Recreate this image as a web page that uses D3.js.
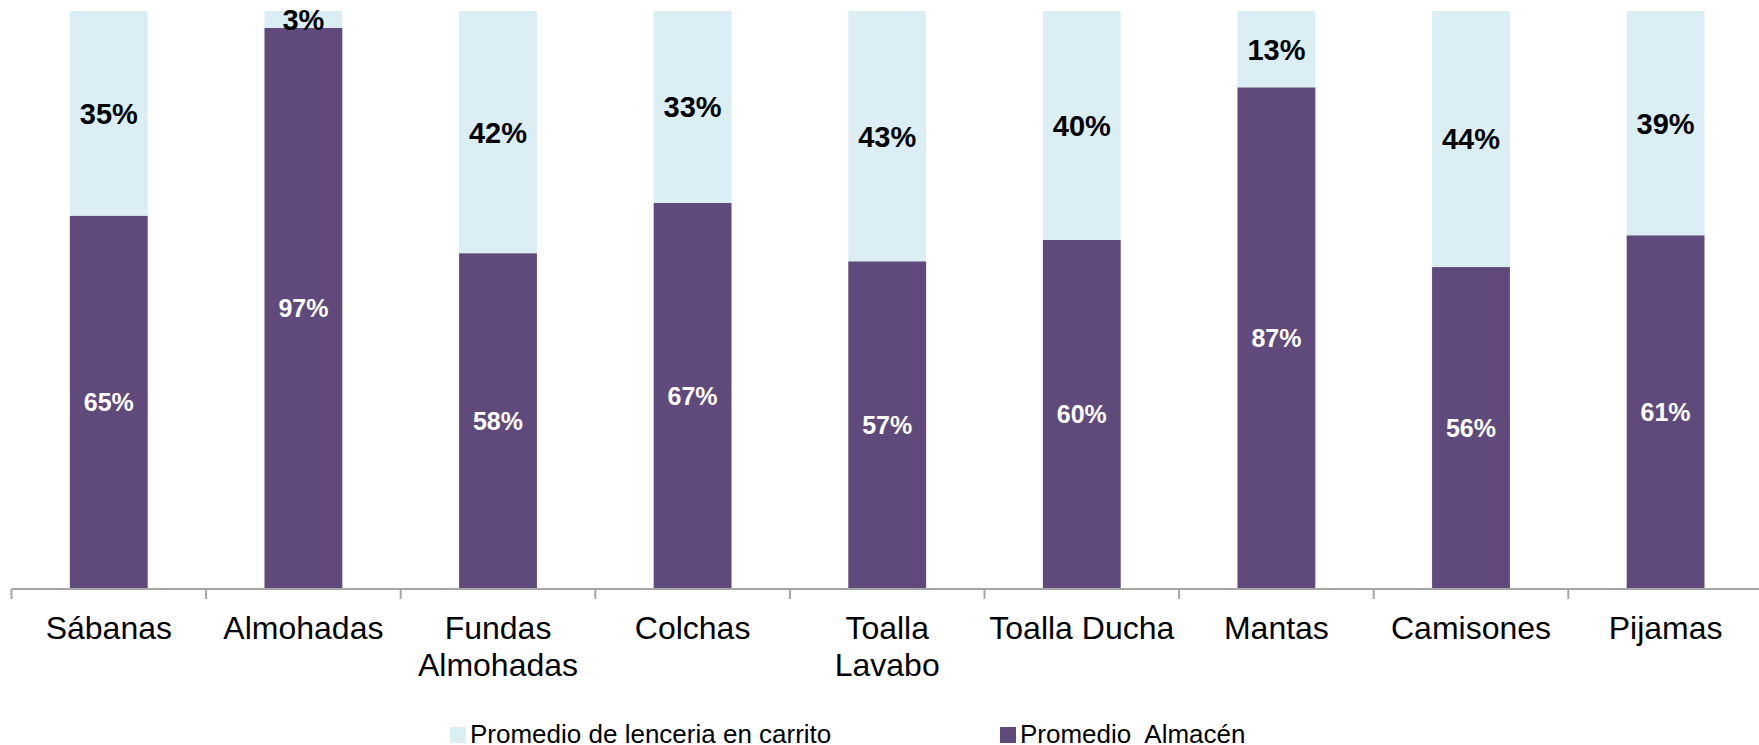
<!DOCTYPE html>
<html>
<head>
<meta charset="utf-8">
<script src="https://cdn.jsdelivr.net/npm/d3@7"></script>
<style>
  body { margin: 0; background: #fff; }
  svg { display: block; font-family: "Liberation Sans", Arial, sans-serif; }
</style>
</head>
<body>
<script>
// chart size
var w = 1759;
var h = 745;

// categories (line breaks as they show under the axis)
var categories = ["Sábanas", "Almohadas", "Fundas\nAlmohadas", "Colchas", "Toalla\nLavabo",
                  "Toalla Ducha", "Mantas", "Camisones", "Pijamas"];

// share kept in the store (bottom) and in the trolley (top), in percent
var almacen = [64.6, 97.1, 58.1, 66.8, 56.7, 60.4, 86.8, 55.7, 61.2];
var carrito = [35.4, 2.9, 41.9, 33.2, 43.3, 39.6, 13.2, 44.3, 38.8];

var seriesNames = ["Promedio de lenceria en carrito", "Promedio  Almacén"];
var colLight = "#DBEEF4";
var colDark = "#604A7B";

// plot area
var plotLeft = 11.5, step = 194.6;
var plotTop = 11, plotBottom = 589;

var xScale = d3.scaleBand()
               .domain(d3.range(categories.length))
               .range([plotLeft, plotLeft + step * categories.length])
               .paddingInner(0.6)
               .paddingOuter(0.3);

var yScale = d3.scaleLinear()
               .domain([0, 100])
               .range([plotBottom, plotTop]);

var svg = d3.select("body")
            .append("svg")
            .attr("width", w)
            .attr("height", h);

// stack the two series
var rows = categories.map(function(c, i) { return { i: i, almacen: almacen[i], carrito: carrito[i] }; });
var stack = d3.stack().keys(["almacen", "carrito"])(rows);
var colors = { almacen: colDark, carrito: colLight };

svg.selectAll("g.layer")
    .data(stack)
    .enter()
    .append("g")
    .attr("fill", function(d) { return colors[d.key]; })
    .selectAll("rect")
    .data(function(d) { return d; })
    .enter()
    .append("rect")
    .attr("x", function(d) { return xScale(d.data.i); })
    .attr("y", function(d) { return yScale(d[1]); })
    .attr("width", xScale.bandwidth())
    .attr("height", function(d) { return yScale(d[0]) - yScale(d[1]); });

// value labels in the middle of each segment
stack.forEach(function(layer) {
    var dark = layer.key === "almacen";
    svg.append("g")
        .selectAll("text")
        .data(layer)
        .enter()
        .append("text")
        .attr("x", function(d) { return xScale(d.data.i) + xScale.bandwidth() / 2; })
        .attr("y", function(d) { return (yScale(d[0]) + yScale(d[1])) / 2; })
        .attr("dy", "0.36em")
        .attr("text-anchor", "middle")
        .attr("font-weight", "bold")
        .attr("font-size", dark ? "25px" : "29px")
        .attr("fill", dark ? "#fff" : "#000")
        .text(function(d) { return Math.round(d.data[layer.key]) + "%"; });
});

// x axis: line plus ticks between categories
var axis = svg.append("g").attr("stroke", "#A6A6A6").attr("stroke-width", 2);
axis.append("line")
    .attr("x1", plotLeft).attr("x2", w)
    .attr("y1", plotBottom).attr("y2", plotBottom);
axis.selectAll("line.tick")
    .data(d3.range(categories.length + 1))
    .enter()
    .append("line")
    .attr("x1", function(i) { return plotLeft + i * step; })
    .attr("x2", function(i) { return plotLeft + i * step; })
    .attr("y1", plotBottom)
    .attr("y2", plotBottom + 10);

// category labels
svg.append("g")
    .selectAll("text")
    .data(categories)
    .enter()
    .append("text")
    .attr("text-anchor", "middle")
    .attr("font-size", "32px")
    .attr("fill", "#000")
    .attr("transform", function(d, i) {
        return "translate(" + (xScale(i) + xScale.bandwidth() / 2) + "," + 639 + ")";
    })
    .each(function(d) {
        var t = d3.select(this);
        d.split("\n").forEach(function(line, k) {
            t.append("tspan").attr("x", 0).attr("y", k * 37).text(line);
        });
    });

// legend
var legendX = [450, 1000];
var legend = svg.selectAll("g.legend")
    .data(seriesNames)
    .enter()
    .append("g")
    .attr("transform", function(d, i) { return "translate(" + legendX[i] + ",727)"; });

legend.append("rect")
    .attr("width", 16)
    .attr("height", 16)
    .attr("fill", function(d, i) { return i === 0 ? colLight : colDark; });

legend.append("text")
    .attr("x", 20)
    .attr("y", 16)
    .attr("font-size", "26px")
    .attr("fill", "#000")
    .style("white-space", "pre")
    .text(function(d) { return d; });
</script>
</body>
</html>
